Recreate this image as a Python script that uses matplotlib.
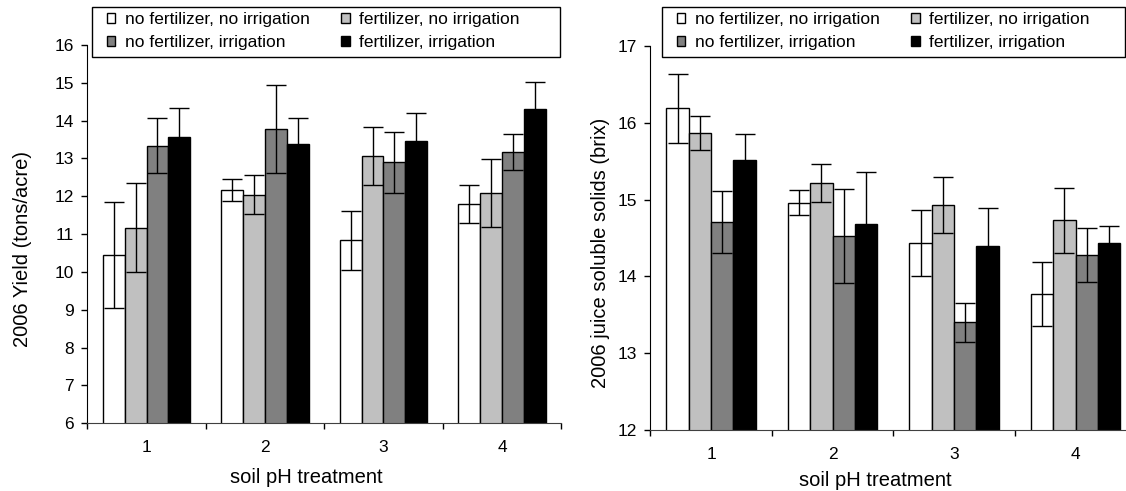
import numpy as np
import matplotlib
matplotlib.use("Agg")
import matplotlib.pyplot as plt
from matplotlib.patches import Patch, Rectangle

plt.rcParams['font.family'] = ['Liberation Sans', 'DejaVu Sans']

groups = ['1', '2', '3', '4']
series = ['no fertilizer, no irrigation', 'fertilizer, no irrigation',
          'no fertilizer, irrigation', 'fertilizer, irrigation']
colors = ['white', '#c0c0c0', '#808080', 'black']

# 2006 yield (tons/acre)
yield_nf_ni = [10.45, 12.17, 10.84, 11.79]
yield_f_ni = [11.17, 12.04, 13.07, 12.09]
yield_nf_i = [13.34, 13.78, 12.90, 13.17]
yield_f_i = [13.57, 13.38, 13.47, 14.30]
yield_err_nf_ni = [1.39, 0.29, 0.78, 0.50]
yield_err_f_ni = [1.17, 0.52, 0.76, 0.90]
yield_err_nf_i = [0.73, 1.17, 0.81, 0.47]
yield_err_f_i = [0.76, 0.69, 0.74, 0.73]

# 2006 juice soluble solids (brix)
brix_nf_ni = [16.19, 14.96, 14.44, 13.77]
brix_f_ni = [15.87, 15.22, 14.93, 14.73]
brix_nf_i = [14.71, 14.53, 13.40, 14.28]
brix_f_i = [15.52, 14.68, 14.39, 14.44]
brix_err_nf_ni = [0.45, 0.16, 0.43, 0.42]
brix_err_f_ni = [0.22, 0.25, 0.36, 0.42]
brix_err_nf_i = [0.40, 0.61, 0.26, 0.35]
brix_err_f_i = [0.33, 0.68, 0.50, 0.22]

W, H = 1126, 491
fig = plt.figure(figsize=(W / 100, H / 100), dpi=100)


def panel(rect, means, errs, ylim, ylabel, label_y, legend_pos, frame_rect):
    ax = fig.add_axes(rect)
    x = np.arange(len(groups))
    w = 0.184
    for i in range(4):
        ax.bar(x + (i - 1.5) * w, means[i], w, bottom=0, color=colors[i],
               edgecolor='black', linewidth=1.0, zorder=2)
        ax.errorbar(x + (i - 1.5) * w, means[i], yerr=errs[i], fmt='none',
                    ecolor='black', elinewidth=1.0, capsize=7, capthick=1.0,
                    zorder=3)
    ax.set_xlim(-0.5, len(groups) - 0.5)
    ax.set_ylim(*ylim)
    ax.set_yticks(np.arange(ylim[0], ylim[1] + 1))
    ax.set_xticks(np.arange(len(groups) + 1) - 0.5)
    ax.set_xticklabels([])
    ax.set_xticks(x, minor=True)
    ax.set_xticklabels(groups, minor=True)
    ax.tick_params(axis='x', which='major', direction='out', length=4.5, width=1)
    ax.tick_params(axis='x', which='minor', length=0, pad=12, labelsize=12.5)
    ax.tick_params(axis='y', direction='out', length=4.5, width=1, pad=5,
                   labelsize=12.5)
    for s in ['top', 'right']:
        ax.spines[s].set_visible(False)
    ax.spines['left'].set_color('black')
    ax.spines['bottom'].set_color('#404040')
    ax.set_ylabel(ylabel, fontsize=14.5)
    ax.yaxis.set_label_coords(label_y, 0.462)
    ax.set_xlabel('soil pH treatment', fontsize=14.5)

    # legend frame drawn over the top of the plot area
    fr = Rectangle((frame_rect[0] / W, 1 - frame_rect[3] / H),
                   (frame_rect[2] - frame_rect[0]) / W,
                   (frame_rect[3] - frame_rect[1]) / H,
                   transform=fig.transFigure, facecolor='white',
                   edgecolor='black', linewidth=1.0, zorder=5)
    fig.add_artist(fr)
    handles = [Patch(facecolor=colors[i], edgecolor='black', linewidth=1.0)
               for i in [0, 2, 1, 3]]
    labels = [series[i] for i in [0, 2, 1, 3]]
    leg = fig.legend(handles, labels, ncol=2, loc='upper left',
                     bbox_to_anchor=(legend_pos[0] / W, 1 - legend_pos[1] / H),
                     frameon=False, fontsize=12.5, borderpad=0,
                     borderaxespad=0, handlelength=0.5, handleheight=0.5,
                     handletextpad=0.55, columnspacing=1.8, labelspacing=0.45)
    leg.set_zorder(6)
    return ax


ax1 = panel([87.3 / W, 1 - 423.3 / H, 473.9 / W, 378.3 / H],
            [yield_nf_ni, yield_f_ni, yield_nf_i, yield_f_i],
            [yield_err_nf_ni, yield_err_f_ni, yield_err_nf_i, yield_err_f_i],
            (6, 16), '2006 Yield (tons/acre)', -0.117,
            (106.7, 12), (92.3, 7, 560, 57))
ax1.xaxis.set_label_coords(0.462, -0.118)

ax2 = panel([650.3 / W, 1 - 430 / H, 486 / W, 384 / H],
            [brix_nf_ni, brix_f_ni, brix_nf_i, brix_f_i],
            [brix_err_nf_ni, brix_err_f_ni, brix_err_nf_i, brix_err_f_i],
            (12, 17), '2006 juice soluble solids (brix)', -0.0835,
            (676.7, 12), (662.3, 7, 1125, 57))
ax2.xaxis.set_label_coords(0.462, -0.107)

fig.savefig('out.png', dpi=100)
